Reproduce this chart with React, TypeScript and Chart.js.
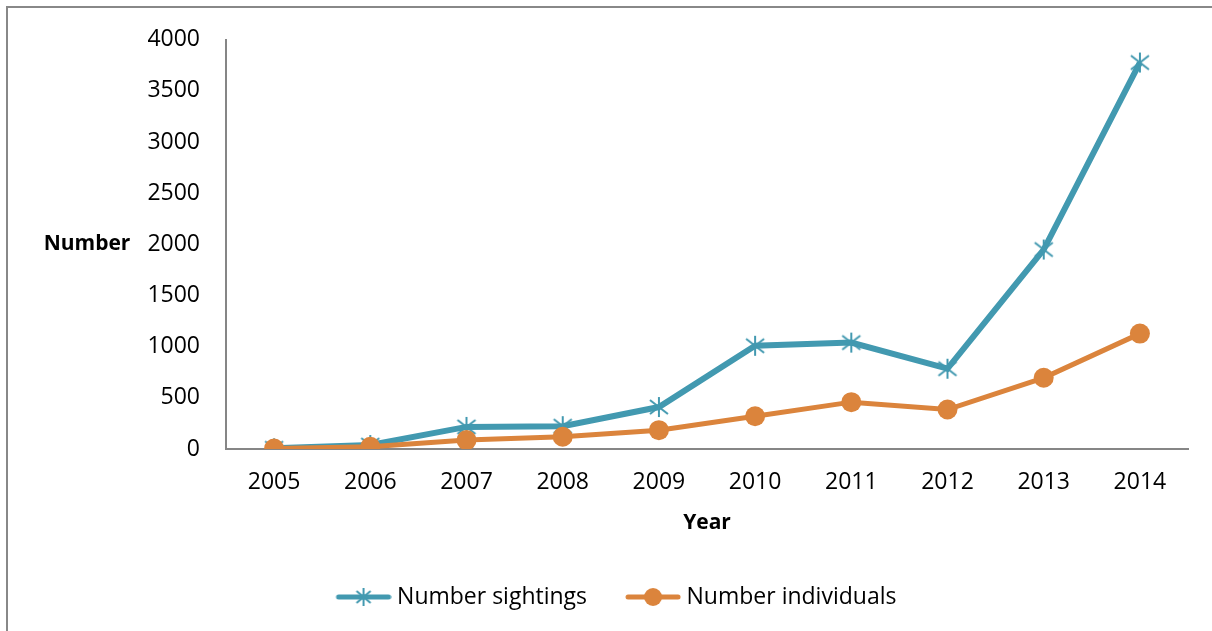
import React, { useEffect, useRef } from "react";
import { Chart, registerables } from "chart.js";

Chart.register(...registerables);

// ---- data ----
const years = ["2005", "2006", "2007", "2008", "2009", "2010", "2011", "2012", "2013", "2014"];
const sightings = [7, 39, 216, 223, 410, 1009, 1040, 785, 1950, 3778];
const individuals = [5, 22, 87, 120, 184, 320, 458, 386, 696, 1128];
const seriesLabels = ["Number sightings", "Number individuals"];
const yMin = 0;
const yMax = 4000;
const yStep = 500;
const xTitle = "Year";
const yTitle = "Number";

// ---- styles ----
const TEAL = "#4299B0";
const ORANGE = "#DB843C";
const AXIS = "#868686";
const FONT = "'Open Sans', 'DejaVu Sans', sans-serif";
const BOX = 78;

function makeStar(color: string) {
  const c = document.createElement("canvas");
  c.width = 22;
  c.height = 22;
  const ctx = c.getContext("2d")!;
  ctx.strokeStyle = color;
  ctx.lineWidth = 2;
  const cx = 11;
  const cy = 11;
  ctx.beginPath();
  ctx.moveTo(cx - 9, cy - 7);
  ctx.lineTo(cx + 9, cy + 7);
  ctx.moveTo(cx - 9, cy + 7);
  ctx.lineTo(cx + 9, cy - 7);
  ctx.moveTo(cx, cy - 10);
  ctx.lineTo(cx, cy + 10);
  ctx.stroke();
  return c;
}

function makeLegendIcon(color: string, kind: "star" | "circle") {
  const W = BOX + 12;
  const H = 26;
  const c = document.createElement("canvas");
  c.width = W;
  c.height = H;
  const ctx = c.getContext("2d")!;
  const x0 = W - 56;
  const cy = H / 2;
  ctx.strokeStyle = color;
  ctx.lineCap = "round";
  ctx.lineWidth = 5;
  ctx.beginPath();
  ctx.moveTo(x0 + 3, cy);
  ctx.lineTo(W - 3, cy);
  ctx.stroke();
  const mx = x0 + 28;
  if (kind === "star") {
    ctx.lineCap = "butt";
    ctx.lineWidth = 2;
    ctx.beginPath();
    ctx.moveTo(mx - 7, cy - 6);
    ctx.lineTo(mx + 7, cy + 6);
    ctx.moveTo(mx - 7, cy + 6);
    ctx.lineTo(mx + 7, cy - 6);
    ctx.moveTo(mx, cy - 9);
    ctx.lineTo(mx, cy + 9);
    ctx.stroke();
  } else {
    ctx.fillStyle = color;
    ctx.beginPath();
    ctx.arc(mx, cy, 9, 0, Math.PI * 2);
    ctx.fill();
  }
  return c;
}

export default function App() {
  const ref = useRef<HTMLCanvasElement | null>(null);

  useEffect(() => {
    if (!ref.current) return;
    const star = makeStar(TEAL);
    const icons = [makeLegendIcon(TEAL, "star"), makeLegendIcon(ORANGE, "circle")];

    const yTitlePlugin = {
      id: "yTitleHorizontal",
      afterDraw(chart: any) {
        const { ctx, chartArea } = chart;
        ctx.save();
        ctx.font = `bold 21px ${FONT}`;
        ctx.fillStyle = "#000";
        ctx.textAlign = "center";
        ctx.textBaseline = "middle";
        ctx.fillText(yTitle, chartArea.left - 139, (chartArea.top + chartArea.bottom) / 2);
        ctx.restore();
      },
    };

    const chart = new Chart(ref.current, {
      type: "line",
      data: {
        labels: years,
        datasets: [
          {
            label: seriesLabels[0],
            data: sightings,
            borderColor: TEAL,
            backgroundColor: TEAL,
            borderWidth: 6,
            pointStyle: star as any,
            pointRadius: 10,
            tension: 0,
            order: 2,
          },
          {
            label: seriesLabels[1],
            data: individuals,
            borderColor: ORANGE,
            backgroundColor: ORANGE,
            borderWidth: 5,
            pointStyle: "circle",
            pointRadius: 10,
            pointBorderWidth: 0,
            tension: 0,
            order: 1,
          },
        ],
      },
      options: {
        animation: false,
        responsive: false,
        events: [],
        layout: { padding: { left: 16, right: 24, top: 37, bottom: 12.5 } },
        plugins: {
          tooltip: { enabled: false },
          legend: {
            position: "bottom",
            labels: {
              usePointStyle: true,
              pointStyleWidth: BOX,
              padding: 10,
              color: "#000",
              font: { family: FONT, size: 23 },
              generateLabels: (ch: any) =>
                ch.data.datasets.map((ds: any, i: number) => ({
                  text: ds.label,
                  fillStyle: ds.borderColor,
                  strokeStyle: ds.borderColor,
                  lineWidth: 0,
                  hidden: !ch.isDatasetVisible(i),
                  pointStyle: icons[i],
                  rotation: 0,
                  datasetIndex: i,
                  fontColor: "#000",
                })),
            },
          },
        },
        scales: {
          x: {
            offset: true,
            grid: { display: false, drawTicks: false },
            border: { display: true, color: AXIS, width: 2 },
            ticks: {
              padding: 20,
              color: "#000",
              maxRotation: 0,
              autoSkip: false,
              font: { family: FONT, size: 23 },
            },
            title: {
              display: true,
              text: xTitle,
              color: "#000",
              font: { family: FONT, size: 21, weight: "bold" },
              padding: { top: 0, bottom: 40 },
            },
            afterFit: (s: any) => {
              s.height = 126.5;
            },
          },
          y: {
            min: yMin,
            max: yMax,
            grid: { display: false, drawTicks: false },
            border: { display: true, color: AXIS, width: 2 },
            ticks: {
              stepSize: yStep,
              padding: 26,
              color: "#000",
              font: { family: FONT, size: 23 },
              callback: (v: any) => String(v),
            },
            afterFit: (s: any) => {
              s.width = 210;
            },
          },
        },
      },
      plugins: [yTitlePlugin],
    });
    return () => chart.destroy();
  }, []);

  return (
    <div
      style={{
        position: "fixed",
        left: 0,
        top: 0,
        width: 1212,
        height: 631,
        overflow: "hidden",
        background: "#fff",
      }}
    >
      <div
        style={{
          position: "absolute",
          left: 6,
          top: 6,
          width: 1300,
          height: 700,
          border: "2px solid #888",
          boxSizing: "border-box",
        }}
      />
      <canvas
        ref={ref}
        width={1212}
        height={631}
        style={{ position: "absolute", left: 0, top: 0, width: 1212, height: 631 }}
      />
    </div>
  );
}
